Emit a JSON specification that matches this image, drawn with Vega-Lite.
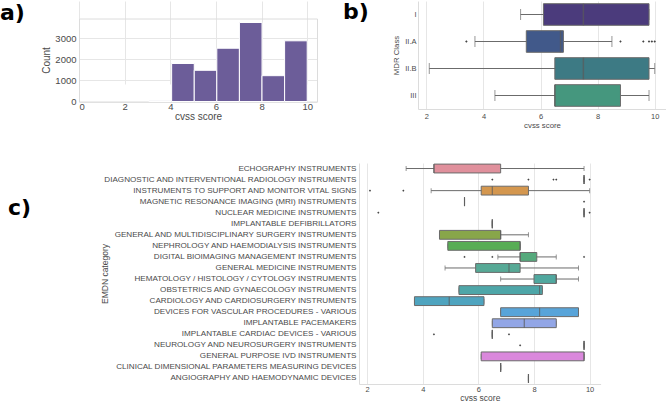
{
  "$schema": "https://vega.github.io/schema/vega-lite/v6.json",
  "padding": {"left": 0, "top": 1, "right": 0, "bottom": 0},
  "background": "#ffffff",
  "config": {
    "view": {"stroke": null},
    "font": "Liberation Sans",
    "axis": {"labelColor": "#4a4a4a", "titleColor": "#4a4a4a", "titleFontWeight": "normal", "ticks": false, "gridColor": "#e6e6e6", "domainColor": "#dcdcdc", "labelFont": "Liberation Sans", "titleFont": "Liberation Sans"},
    "title": {"font": "DejaVu Sans", "fontWeight": "bold", "fontSize": 22, "color": "#000000", "anchor": "start", "frame": "group", "offset": 0, "baseline": "alphabetic"}
  },
  "datasets": {
    "hist": [
      {"bin_start": 3.07, "bin_end": 4.06, "count": 30},
      {"bin_start": 4.06, "bin_end": 5.05, "count": 1809},
      {"bin_start": 5.05, "bin_end": 6.04, "count": 1485},
      {"bin_start": 6.04, "bin_end": 7.03, "count": 2535},
      {"bin_start": 7.03, "bin_end": 8.02, "count": 3759},
      {"bin_start": 8.02, "bin_end": 9.01, "count": 1229},
      {"bin_start": 9.01, "bin_end": 10.0, "count": 2888}
    ],
    "mdr": [
      {"cls": "I", "lo": 5.3, "q1": 6.1, "med": 7.5, "q3": 9.8, "hi": 9.8},
      {"cls": "II.A", "lo": 3.7, "q1": 5.5, "med": 6.7, "q3": 6.8, "hi": 8.5},
      {"cls": "II.B", "lo": 2.1, "q1": 6.5, "med": 7.5, "q3": 9.8, "hi": 10.0},
      {"cls": "III", "lo": 4.4, "q1": 6.5, "med": 6.5, "q3": 8.8, "hi": 9.8}
    ],
    "mdr_out": [
      {"cls": "II.A", "v": 3.4},
      {"cls": "II.A", "v": 8.8},
      {"cls": "II.A", "v": 9.6},
      {"cls": "II.A", "v": 9.8},
      {"cls": "II.A", "v": 9.9},
      {"cls": "II.A", "v": 10.0}
    ],
    "emdn": [
      {"cat": "ECHOGRAPHY INSTRUMENTS", "lo": 3.4, "q1": 4.4, "med": 4.4, "q3": 6.8, "hi": 9.8},
      {"cat": "DIAGNOSTIC AND INTERVENTIONAL RADIOLOGY INSTRUMENTS", "lo": 9.8, "q1": 9.8, "med": 9.8, "q3": 9.8, "hi": 9.8},
      {"cat": "INSTRUMENTS TO SUPPORT AND MONITOR VITAL SIGNS", "lo": 4.3, "q1": 6.1, "med": 6.5, "q3": 7.8, "hi": 10.0},
      {"cat": "MAGNETIC RESONANCE IMAGING (MRI) INSTRUMENTS", "lo": 5.5, "q1": 5.5, "med": 5.5, "q3": 5.5, "hi": 5.5},
      {"cat": "NUCLEAR MEDICINE INSTRUMENTS", "lo": 9.8, "q1": 9.8, "med": 9.8, "q3": 9.8, "hi": 9.8},
      {"cat": "IMPLANTABLE DEFIBRILLATORS", "lo": 6.5, "q1": 6.5, "med": 6.5, "q3": 6.5, "hi": 6.5},
      {"cat": "GENERAL AND MULTIDISCIPLINARY SURGERY INSTRUMENTS", "lo": 4.6, "q1": 4.6, "med": 6.8, "q3": 6.8, "hi": 7.8},
      {"cat": "NEPHROLOGY AND HAEMODIALYSIS INSTRUMENTS", "lo": 4.9, "q1": 4.9, "med": 7.5, "q3": 7.5, "hi": 7.5},
      {"cat": "DIGITAL BIOIMAGING MANAGEMENT INSTRUMENTS", "lo": 6.7, "q1": 7.5, "med": 7.5, "q3": 8.1, "hi": 8.8},
      {"cat": "GENERAL MEDICINE INSTRUMENTS", "lo": 4.8, "q1": 5.9, "med": 7.1, "q3": 7.5, "hi": 9.6},
      {"cat": "HEMATOLOGY / HISTOLOGY / CYTOLOGY INSTRUMENTS", "lo": 6.8, "q1": 8.0, "med": 8.8, "q3": 8.8, "hi": 9.6},
      {"cat": "OBSTETRICS AND GYNAECOLOGY INSTRUMENTS", "lo": 5.3, "q1": 5.3, "med": 8.2, "q3": 8.3, "hi": 8.3},
      {"cat": "CARDIOLOGY AND CARDIOSURGERY INSTRUMENTS", "lo": 3.7, "q1": 3.7, "med": 4.95, "q3": 6.2, "hi": 6.2},
      {"cat": "DEVICES FOR VASCULAR PROCEDURES - VARIOUS", "lo": 6.8, "q1": 6.8, "med": 8.2, "q3": 9.6, "hi": 9.6},
      {"cat": "IMPLANTABLE PACEMAKERS", "lo": 6.5, "q1": 6.5, "med": 7.65, "q3": 8.8, "hi": 8.8},
      {"cat": "IMPLANTABLE CARDIAC DEVICES - VARIOUS", "lo": 6.5, "q1": 6.5, "med": 6.5, "q3": 6.5, "hi": 6.5},
      {"cat": "NEUROLOGY AND NEUROSURGERY INSTRUMENTS", "lo": 9.8, "q1": 9.8, "med": 9.8, "q3": 9.8, "hi": 9.8},
      {"cat": "GENERAL PURPOSE IVD INSTRUMENTS", "lo": 6.1, "q1": 6.1, "med": 9.8, "q3": 9.8, "hi": 9.8},
      {"cat": "CLINICAL DIMENSIONAL PARAMETERS MEASURING DEVICES", "lo": 6.8, "q1": 6.8, "med": 6.8, "q3": 6.8, "hi": 6.8},
      {"cat": "ANGIOGRAPHY AND HAEMODYNAMIC DEVICES", "lo": 7.8, "q1": 7.8, "med": 7.8, "q3": 7.8, "hi": 7.8}
    ],
    "emdn_out": [
      {"cat": "DIAGNOSTIC AND INTERVENTIONAL RADIOLOGY INSTRUMENTS", "v": 6.5},
      {"cat": "DIAGNOSTIC AND INTERVENTIONAL RADIOLOGY INSTRUMENTS", "v": 7.8},
      {"cat": "DIAGNOSTIC AND INTERVENTIONAL RADIOLOGY INSTRUMENTS", "v": 8.7},
      {"cat": "DIAGNOSTIC AND INTERVENTIONAL RADIOLOGY INSTRUMENTS", "v": 8.8},
      {"cat": "DIAGNOSTIC AND INTERVENTIONAL RADIOLOGY INSTRUMENTS", "v": 10.0},
      {"cat": "INSTRUMENTS TO SUPPORT AND MONITOR VITAL SIGNS", "v": 2.1},
      {"cat": "INSTRUMENTS TO SUPPORT AND MONITOR VITAL SIGNS", "v": 3.3},
      {"cat": "MAGNETIC RESONANCE IMAGING (MRI) INSTRUMENTS", "v": 9.8},
      {"cat": "NUCLEAR MEDICINE INSTRUMENTS", "v": 2.4},
      {"cat": "NUCLEAR MEDICINE INSTRUMENTS", "v": 10.0},
      {"cat": "DIGITAL BIOIMAGING MANAGEMENT INSTRUMENTS", "v": 5.5},
      {"cat": "DIGITAL BIOIMAGING MANAGEMENT INSTRUMENTS", "v": 6.5},
      {"cat": "DIGITAL BIOIMAGING MANAGEMENT INSTRUMENTS", "v": 9.8},
      {"cat": "IMPLANTABLE CARDIAC DEVICES - VARIOUS", "v": 4.4},
      {"cat": "IMPLANTABLE CARDIAC DEVICES - VARIOUS", "v": 7.1},
      {"cat": "NEUROLOGY AND NEUROSURGERY INSTRUMENTS", "v": 7.5}
    ]
  },
  "columns": 2,
  "bounds": "flush",
  "spacing": {"row": 54, "column": 101},
  "resolve": {"scale": {"x": "independent", "y": "independent", "color": "independent"}},
  "concat": [
    {
      "width": 238, "height": 100.5,
      "title": {"text": "a)", "dx": -79, "dy": 28},
      "data": {"name": "hist"},
      "resolve": {"axis": {"x": "independent", "y": "independent"}},
      "layer": [
        {
          "mark": {"type": "bar", "color": "#6c5d99", "stroke": "#ffffff", "strokeWidth": 1},
          "encoding": {
            "x": {"field": "bin_start", "type": "quantitative", "scale": {"domain": [0, 10.43], "nice": false, "zero": false},
                  "axis": {"orient": "bottom", "values": [0, 2, 4, 6, 8, 10], "title": "cvss score", "grid": true, "domain": true, "labelFontSize": 9.5, "titleFontSize": 10, "labelPadding": -0.5, "titlePadding": 1}},
            "x2": {"field": "bin_end"},
            "y": {"field": "count", "type": "quantitative", "scale": {"domain": [0, 3950], "nice": false, "range": [100.5, 17.5]},
                  "axis": {"orient": "left", "values": [0, 1000, 2000, 3000], "format": "d", "title": "Count", "grid": true, "domain": true, "labelFontSize": 9.5, "titleFontSize": 10, "labelPadding": 3, "titlePadding": 3}},
            "y2": {"datum": 0}
          }
        },
        {
          "mark": {"type": "bar", "opacity": 0},
          "encoding": {
            "x": {"field": "bin_start", "type": "quantitative",
                  "axis": {"orient": "top", "offset": -17.5, "labels": false, "title": null, "grid": false, "domain": true}},
            "x2": {"field": "bin_end"},
            "y": {"field": "count", "type": "quantitative",
                  "axis": {"orient": "right", "labels": false, "title": null, "grid": false, "domain": true}},
            "y2": {"datum": 0}
          }
        }
      ]
    },
    {
      "width": 248, "height": 108,
      "title": {"text": "b)", "dx": -75, "dy": 27},
      "encoding": {
        "y": {"field": "cls", "type": "nominal", "scale": {"domain": ["I", "II.A", "II.B", "III"], "paddingInner": 0.2, "paddingOuter": 0.1},
              "axis": {"title": "MDR Class", "grid": false, "labelFontSize": 7.5, "titleFontSize": 7.8, "labelPadding": 2, "titlePadding": 4}}
      },
      "layer": [
        {
          "data": {"name": "mdr"},
          "mark": {"type": "rule", "color": "#6b6b6b", "strokeWidth": 1},
          "encoding": {
            "x": {"field": "lo", "type": "quantitative", "scale": {"domain": [1.705, 10.395], "nice": false, "zero": false},
                  "axis": {"values": [2, 3, 4, 5, 6, 7, 8, 9, 10], "title": "cvss score", "grid": true, "labelFontSize": 7.5, "titleFontSize": 7.8, "labelPadding": 3, "titlePadding": 2}},
            "x2": {"field": "hi"}
          }
        },
        {
          "data": {"name": "mdr"},
          "mark": {"type": "tick", "color": "#6b6b6b", "thickness": 1, "size": 11, "orient": "vertical"},
          "encoding": {"x": {"field": "lo", "type": "quantitative"}}
        },
        {
          "data": {"name": "mdr"},
          "mark": {"type": "tick", "color": "#6b6b6b", "thickness": 1, "size": 11, "orient": "vertical"},
          "encoding": {"x": {"field": "hi", "type": "quantitative"}}
        },
        {
          "data": {"name": "mdr"},
          "mark": {"type": "bar", "stroke": "#6b6b6b", "strokeWidth": 1},
          "encoding": {
            "x": {"field": "q1", "type": "quantitative"},
            "x2": {"field": "q3"},
            "color": {"field": "cls", "type": "nominal", "legend": null,
                      "scale": {"domain": ["I", "II.A", "II.B", "III"], "range": ["#4b3b7c", "#41598a", "#3d7a84", "#45977e"]}}
          }
        },
        {
          "data": {"name": "mdr"},
          "mark": {"type": "tick", "color": "#5a5a5a", "thickness": 1.5, "size": 21.6, "orient": "vertical"},
          "encoding": {"x": {"field": "med", "type": "quantitative"}}
        },
        {
          "data": {"name": "mdr_out"},
          "mark": {"type": "point", "shape": "diamond", "filled": true, "size": 6, "color": "#444444", "opacity": 1},
          "encoding": {"x": {"field": "v", "type": "quantitative"}}
        }
      ]
    },
    {
      "width": 238, "height": 221,
      "title": {"text": "c)", "dx": -71, "dy": 61},
      "encoding": {
        "y": {"field": "cat", "type": "nominal",
              "scale": {"domain": ["ECHOGRAPHY INSTRUMENTS", "DIAGNOSTIC AND INTERVENTIONAL RADIOLOGY INSTRUMENTS", "INSTRUMENTS TO SUPPORT AND MONITOR VITAL SIGNS", "MAGNETIC RESONANCE IMAGING (MRI) INSTRUMENTS", "NUCLEAR MEDICINE INSTRUMENTS", "IMPLANTABLE DEFIBRILLATORS", "GENERAL AND MULTIDISCIPLINARY SURGERY INSTRUMENTS", "NEPHROLOGY AND HAEMODIALYSIS INSTRUMENTS", "DIGITAL BIOIMAGING MANAGEMENT INSTRUMENTS", "GENERAL MEDICINE INSTRUMENTS", "HEMATOLOGY / HISTOLOGY / CYTOLOGY INSTRUMENTS", "OBSTETRICS AND GYNAECOLOGY INSTRUMENTS", "CARDIOLOGY AND CARDIOSURGERY INSTRUMENTS", "DEVICES FOR VASCULAR PROCEDURES - VARIOUS", "IMPLANTABLE PACEMAKERS", "IMPLANTABLE CARDIAC DEVICES - VARIOUS", "NEUROLOGY AND NEUROSURGERY INSTRUMENTS", "GENERAL PURPOSE IVD INSTRUMENTS", "CLINICAL DIMENSIONAL PARAMETERS MEASURING DEVICES", "ANGIOGRAPHY AND HAEMODYNAMIC DEVICES"], "paddingInner": 0.2, "paddingOuter": 0.1},
              "axis": {"title": "EMDN category", "grid": false, "offset": -280, "labelFontSize": 8.1, "titleFontSize": 8.5, "labelPadding": 3, "titlePadding": 50, "labelLimit": 400}}
      },
      "layer": [
        {
          "data": {"name": "emdn"},
          "mark": {"type": "rule", "color": "#6b6b6b", "strokeWidth": 1},
          "encoding": {
            "x": {"field": "lo", "type": "quantitative", "scale": {"domain": [1.705, 10.395], "nice": false, "zero": false, "range": [280, 521.6]},
                  "axis": {"values": [2, 3, 4, 5, 6, 7, 8, 9, 10], "title": "cvss score", "grid": true, "labelFontSize": 7.5, "titleFontSize": 8.5, "labelPadding": 1, "titlePadding": 1}},
            "x2": {"field": "hi"}
          }
        },
        {
          "data": {"name": "emdn"},
          "mark": {"type": "tick", "color": "#6b6b6b", "thickness": 1, "size": 5, "orient": "vertical"},
          "encoding": {"x": {"field": "lo", "type": "quantitative"}}
        },
        {
          "data": {"name": "emdn"},
          "mark": {"type": "tick", "color": "#6b6b6b", "thickness": 1, "size": 5, "orient": "vertical"},
          "encoding": {"x": {"field": "hi", "type": "quantitative"}}
        },
        {
          "data": {"name": "emdn"},
          "mark": {"type": "bar", "stroke": "#6b6b6b", "strokeWidth": 1},
          "encoding": {
            "x": {"field": "q1", "type": "quantitative"},
            "x2": {"field": "q3"},
            "color": {"field": "cat", "type": "nominal", "legend": null,
                      "scale": {"domain": ["ECHOGRAPHY INSTRUMENTS", "DIAGNOSTIC AND INTERVENTIONAL RADIOLOGY INSTRUMENTS", "INSTRUMENTS TO SUPPORT AND MONITOR VITAL SIGNS", "MAGNETIC RESONANCE IMAGING (MRI) INSTRUMENTS", "NUCLEAR MEDICINE INSTRUMENTS", "IMPLANTABLE DEFIBRILLATORS", "GENERAL AND MULTIDISCIPLINARY SURGERY INSTRUMENTS", "NEPHROLOGY AND HAEMODIALYSIS INSTRUMENTS", "DIGITAL BIOIMAGING MANAGEMENT INSTRUMENTS", "GENERAL MEDICINE INSTRUMENTS", "HEMATOLOGY / HISTOLOGY / CYTOLOGY INSTRUMENTS", "OBSTETRICS AND GYNAECOLOGY INSTRUMENTS", "CARDIOLOGY AND CARDIOSURGERY INSTRUMENTS", "DEVICES FOR VASCULAR PROCEDURES - VARIOUS", "IMPLANTABLE PACEMAKERS", "IMPLANTABLE CARDIAC DEVICES - VARIOUS", "NEUROLOGY AND NEUROSURGERY INSTRUMENTS", "GENERAL PURPOSE IVD INSTRUMENTS", "CLINICAL DIMENSIONAL PARAMETERS MEASURING DEVICES", "ANGIOGRAPHY AND HAEMODYNAMIC DEVICES"],
                                "range": ["#e0909c", "#e28164", "#d4974f", "#b18e44", "#9e9241", "#8c963f", "#88a64a", "#58ad55", "#55a97c", "#57a996", "#50a89f", "#4ea6a8", "#4fa4bf", "#58a4d9", "#92a6e6", "#ab99e7", "#c789e5", "#da88dc", "#e27cc4", "#e384ad"]}}
          }
        },
        {
          "data": {"name": "emdn"},
          "mark": {"type": "tick", "color": "#5a5a5a", "thickness": 1.2, "size": 8.8, "orient": "vertical"},
          "encoding": {"x": {"field": "med", "type": "quantitative"}}
        },
        {
          "data": {"name": "emdn_out"},
          "mark": {"type": "point", "shape": "diamond", "filled": true, "size": 5, "color": "#444444", "opacity": 1},
          "encoding": {"x": {"field": "v", "type": "quantitative"}}
        }
      ]
    }
  ]
}
